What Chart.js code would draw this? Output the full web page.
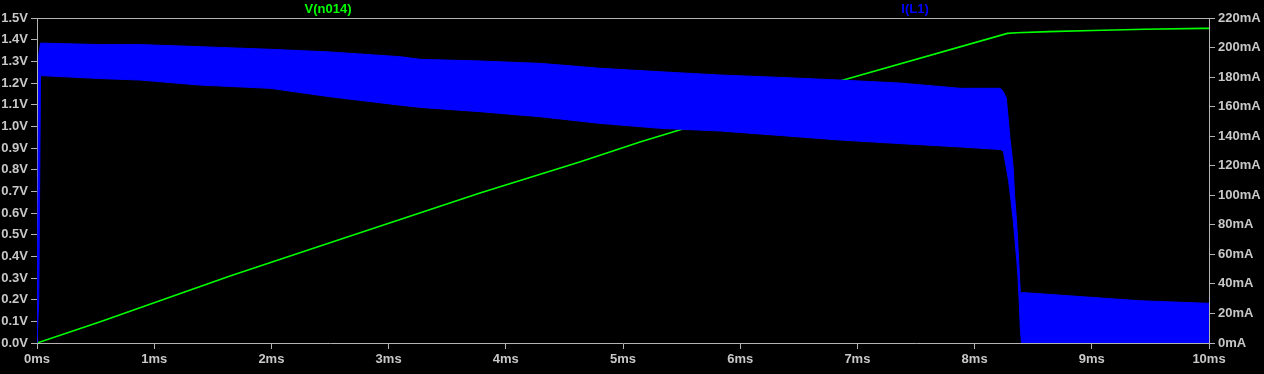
<!DOCTYPE html>
<html>
<head>
<meta charset="utf-8">
<script src="https://cdn.jsdelivr.net/npm/chart.js@4/dist/chart.umd.min.js"></script>
<style>
  html, body { margin: 0; padding: 0; background: #000; }
  #wrap { width: 1264px; height: 374px; position: relative; background: #000; }
</style>
</head>
<body>
<div id="wrap"><canvas id="plot"></canvas></div>
<script>
// V(n014), left axis (volts), time in ms
var timeV = [0, 0.54, 1.647, 2.5, 3.78, 4.63, 5.145, 5.51, 6.85, 8.28, 8.36, 8.63, 9.01, 9.45, 9.95, 10];
var vN014 = [0, 0.098, 0.309, 0.463, 0.692, 0.835, 0.928, 0.988, 1.209, 1.429, 1.432, 1.437, 1.442, 1.448, 1.452, 1.452];

// I(L1), right axis (mA): envelope of the fast ripple, time in ms
var timeI  = [0, 0.015, 0.03, 0.54, 0.88, 1.39, 1.99, 2.5, 3.1, 3.27, 3.78, 4.29, 4.8, 5.32, 5.83, 6.34, 6.85, 7.36, 7.88, 8.22,
              8.245, 8.27, 8.29, 8.3, 8.32, 8.33, 8.34, 8.36, 8.37, 8.38, 8.39, 8.4, 8.44, 8.98, 9.41, 9.98, 10];
var iL1Max = [0, 195, 203, 202, 202, 200.6, 198.8, 197, 193.8, 192, 190.9, 189.3, 186, 183.6, 181.4, 179.8, 178, 176, 172.4, 172.4,
              170, 166, 149, 140, 126, 118, 101.5, 80, 65, 50, 34, 34, 34, 31, 28.6, 26.9, 26.9];
var iL1Min = [0, 30, 181, 179, 178, 174.6, 172.4, 166.7, 161, 159.5, 156.6, 153.2, 148.7, 145.3, 143.5, 140.5, 137.4, 135, 132.7, 131,
              130, 119, 110, 103.6, 90, 83, 74, 56, 45, 29, 10, 0, 0, 0, 0, 0, 0];

var xTicks = [0, 1, 2, 3, 4, 5, 6, 7, 8, 9, 10];

var axisColor = '#b4b4b4';
var labelColor = '#c8c8c8';
var green = '#00ff00';
var blue = '#0000ff';
var tickFont = { family: '"Liberation Sans", Arial, sans-serif', size: 13, weight: 'bold' };

function pts(xs, ys){
  return xs.map(function(x, i){ return { x: x, y: ys[i] }; });
}

// trace names above the plot plus the top frame line
var traceLabels = {
  id: 'traceLabels',
  afterDraw: function(chart){
    var ctx = chart.ctx, area = chart.chartArea;
    ctx.save();
    ctx.strokeStyle = axisColor;
    ctx.lineWidth = 1;
    ctx.beginPath();
    ctx.moveTo(area.left, area.top + 0.5);
    ctx.lineTo(area.right, area.top + 0.5);
    ctx.stroke();
    ctx.font = 'bold 13px "Liberation Sans", Arial, sans-serif';
    ctx.textAlign = 'center';
    ctx.textBaseline = 'middle';
    ctx.fillStyle = green;
    ctx.fillText('V(n014)', 328, 9);
    ctx.fillStyle = blue;
    ctx.fillText('I(L1)', 915, 9);
    ctx.restore();
  }
};

new Chart(document.getElementById('plot'), {
  type: 'line',
  data: {
    datasets: [
      {
        label: 'I(L1) max',
        data: pts(timeI, iL1Max),
        yAxisID: 'yI',
        borderColor: blue,
        backgroundColor: blue,
        borderWidth: 1,
        pointRadius: 0,
        fill: 1
      },
      {
        label: 'I(L1) min',
        data: pts(timeI, iL1Min),
        yAxisID: 'yI',
        borderColor: blue,
        borderWidth: 1,
        pointRadius: 0,
        fill: false
      },
      {
        label: 'V(n014)',
        data: pts(timeV, vN014),
        yAxisID: 'yV',
        borderColor: green,
        borderWidth: 1.6,
        pointRadius: 0,
        fill: false
      }
    ]
  },
  options: {
    responsive: true,
    maintainAspectRatio: false,
    animation: false,
    layout: { padding: { top: 18, left: 0, right: 0, bottom: 0 } },
    plugins: { legend: { display: false }, tooltip: { enabled: false } },
    scales: {
      x: {
        type: 'linear',
        position: 'bottom',
        min: 0,
        max: 10,
        afterBuildTicks: function(scale){ scale.ticks = xTicks.map(function(v){ return { value: v }; }); },
        afterFit: function(scale){ scale.height = 31; },
        ticks: {
          color: labelColor,
          font: tickFont,
          padding: 3,
          maxRotation: 0,
          autoSkip: false,
          callback: function(v){ return v + 'ms'; }
        },
        grid: { drawOnChartArea: false, tickLength: 6, color: axisColor },
        border: { display: true, color: axisColor }
      },
      yV: {
        type: 'linear',
        position: 'left',
        min: 0,
        max: 1.5,
        afterFit: function(scale){ scale.width = 37; },
        ticks: {
          stepSize: 0.1,
          color: labelColor,
          font: tickFont,
          padding: 3,
          autoSkip: false,
          callback: function(v){ return v.toFixed(1) + 'V'; }
        },
        grid: { drawOnChartArea: false, tickLength: 6, color: axisColor },
        border: { display: true, color: axisColor }
      },
      yI: {
        type: 'linear',
        position: 'right',
        min: 0,
        max: 220,
        afterFit: function(scale){ scale.width = 55; },
        ticks: {
          stepSize: 20,
          color: labelColor,
          font: tickFont,
          padding: 3,
          autoSkip: false,
          callback: function(v){ return v + 'mA'; }
        },
        grid: { drawOnChartArea: false, tickLength: 6, color: axisColor },
        border: { display: true, color: axisColor }
      }
    }
  },
  plugins: [traceLabels]
});
</script>
</body>
</html>
